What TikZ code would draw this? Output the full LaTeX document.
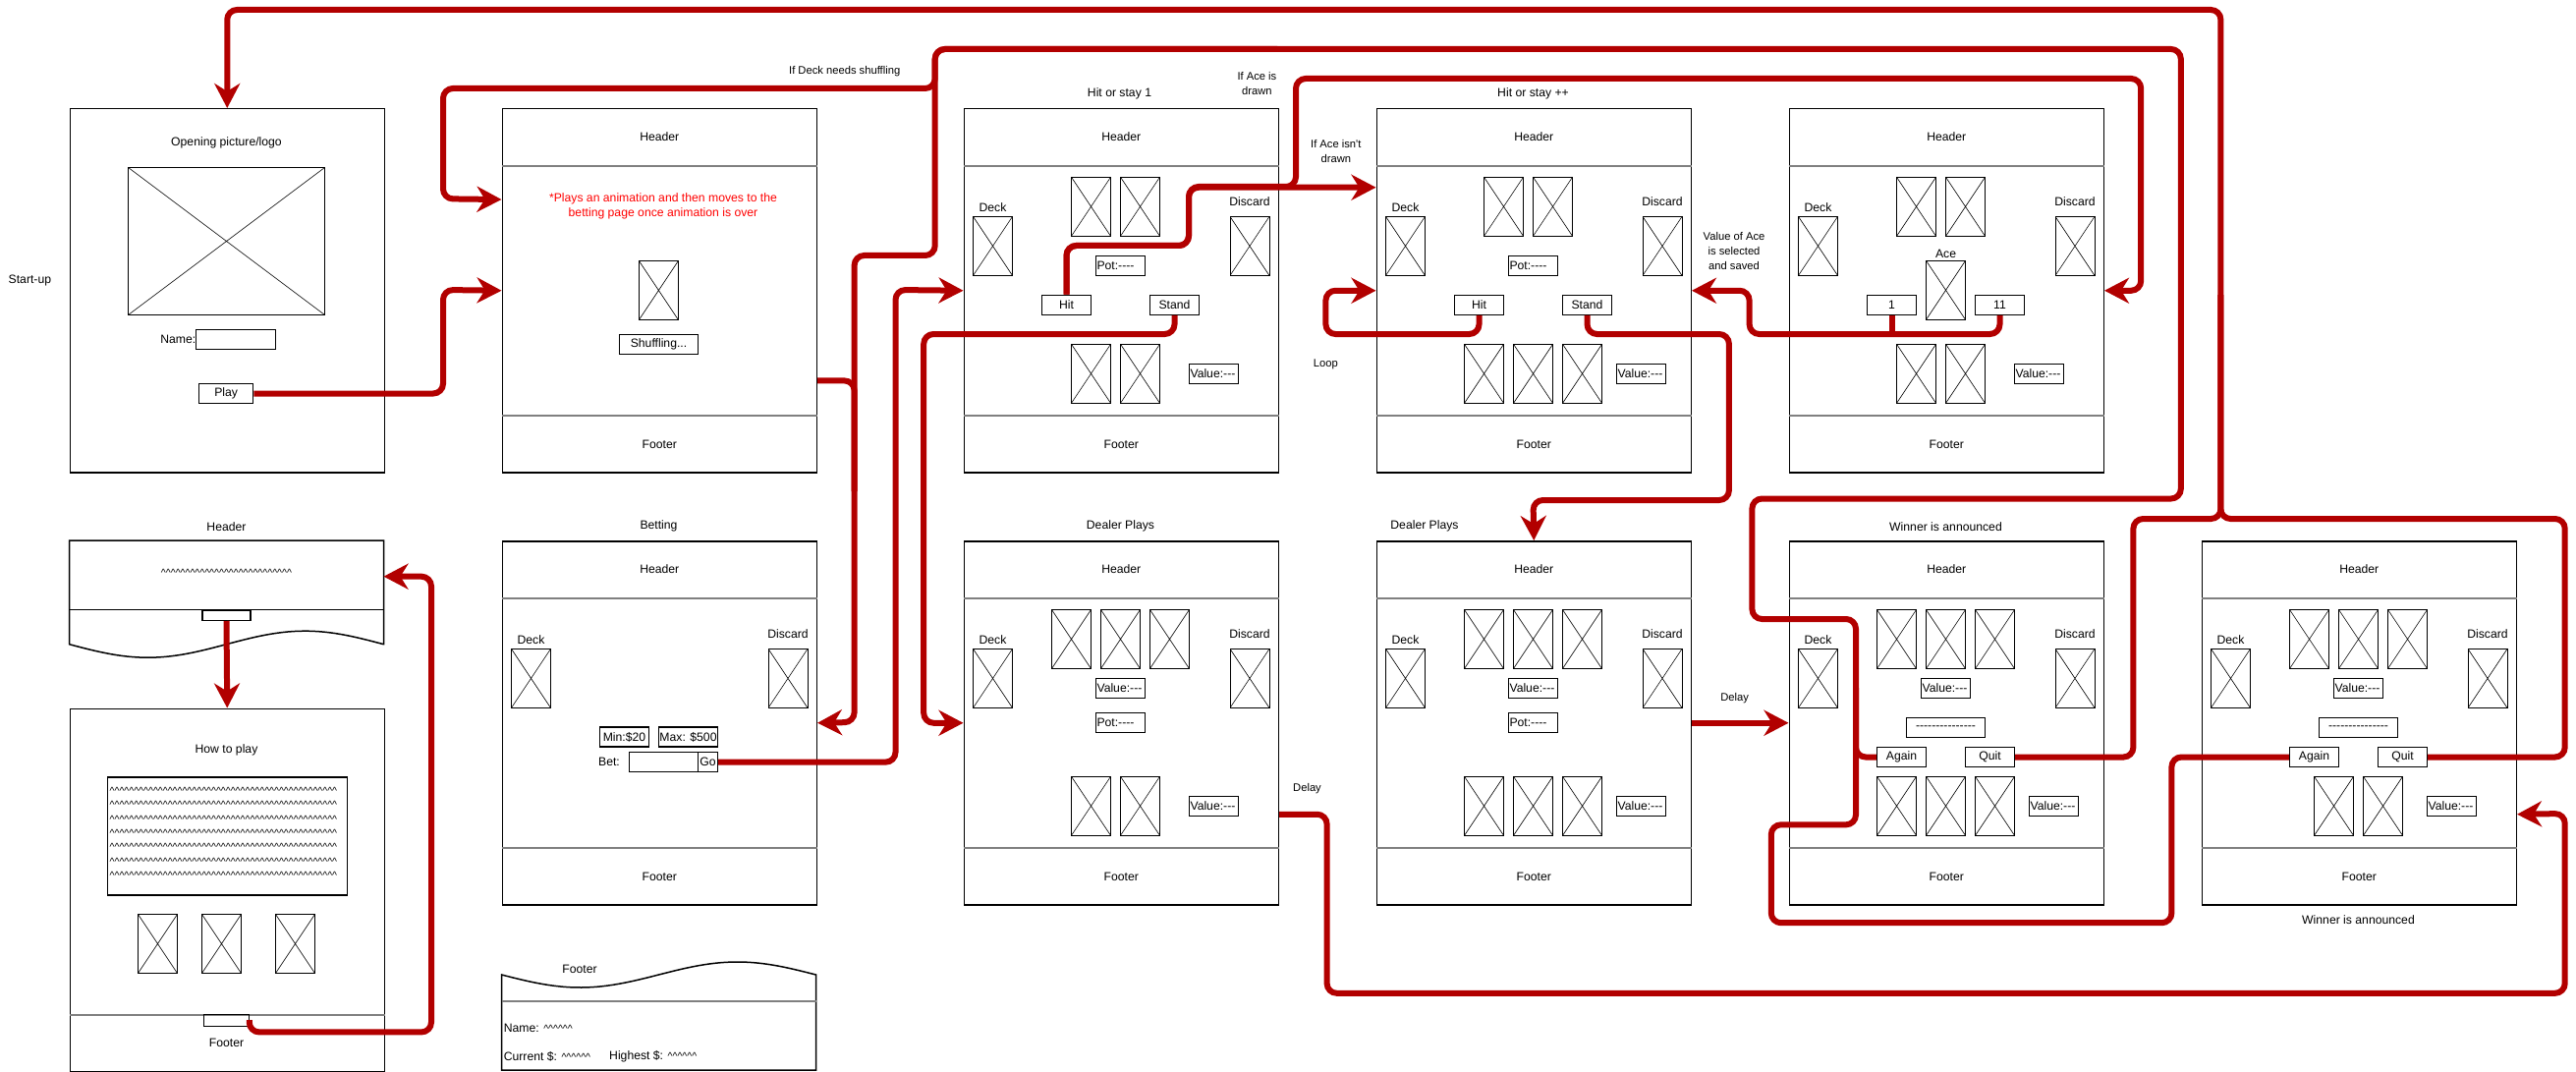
\documentclass[tikz,border=0pt]{standalone}
\usepackage{fontspec}
\newfontfamily\wire{Liberation Sans}
\usetikzlibrary{arrows.meta}
\definecolor{flowred}{HTML}{B20000}
\definecolor{notered}{HTML}{FF0000}
\definecolor{rulegray}{HTML}{808080}
\newcommand{\ui}{\wire\fontsize{12.2}{15}\selectfont}
\newcommand{\edgefont}{\wire\fontsize{11.2}{15}\selectfont}
\newcommand{\hatfont}{\wire\fontsize{10.5}{14.4}\selectfont}
\newcount\hatcount
\newcommand{\hats}[1]{\hatcount=#1\relax
  \loop\textasciicircum\advance\hatcount by -1\relax\ifnum\hatcount>0\repeat}
\tikzset{
  screen/.style={draw, line width=1.5pt, anchor=north west, minimum width=320pt, minimum height=370pt, inner sep=0pt},
  divider/.style={draw=rulegray, line width=2pt},
  card/.style={draw, line width=1pt, minimum width=40pt, minimum height=60pt, inner sep=0pt,
    path picture={\draw[line width=0.6pt] (path picture bounding box.north west) -- (path picture bounding box.south east)
      (path picture bounding box.north east) -- (path picture bounding box.south west);}},
  btn/.style={draw, line width=1.2pt, minimum width=50pt, minimum height=20pt, inner sep=0pt},
  field/.style={btn, inner xsep=1pt, text width=48pt, align=left},
  note/.style={font=\edgefont, align=center},
  flow/.style={draw=flowred, line width=6pt, rounded corners=10pt},
  into/.style={flow, -{Stealth[length=25pt, width=26pt, inset=8pt]}},
}
\begin{document}
\begin{tikzpicture}[x=1pt, y=-1pt, font=\ui]
    \useasboundingbox (0,0) rectangle (2622,1091);

    % screens, top row
    \node[screen] (startup) at (70.5,110) {};
    \node[screen] (shuf) at (510.5,110) {};
    \node[screen] (hitA) at (980.5,110) {};
    \node[screen] (hitB) at (1400.5,110) {};
    \node[screen] (ace) at (1820.5,110) {};
    % screens, bottom row
    \node[screen] (bet) at (510.5,550) {};
    \node[screen] (dealA) at (980.5,550) {};
    \node[screen] (dealB) at (1400.5,550) {};
    \node[screen] (winA) at (1820.5,550) {};
    \node[screen] (winB) at (2240.5,550) {};
    \node[screen, minimum height=369pt] (howto) at (70.5,720.5) {};

    \foreach \s in {shuf,hitA,hitB,ace,bet,dealA,dealB,winA,winB} {
        \draw[divider] ([yshift=-59pt]\s.north west) -- ([yshift=-59pt]\s.north east);
        \draw[divider] ([yshift=58.5pt]\s.south west) -- ([yshift=58.5pt]\s.south east);
        \node (\s-head) at ([yshift=-29.5pt]\s.north) {Header};
        \node (\s-foot) at ([yshift=29pt]\s.south) {Footer};
    }
    \foreach \s in {hitA,hitB,ace,bet,dealA,dealB,winA,winB} {
        \node (\s-decklbl) at ([xshift=30pt,yshift=-100.7pt]\s.north west) {Deck};
        \node[card] (\s-deck) at ([xshift=30pt,yshift=-140.4pt]\s.north west) {};
        \node (\s-disclbl) at ([xshift=-30pt,yshift=-95.6pt]\s.north east) {Discard};
        \node[card] (\s-disc) at ([xshift=-30pt,yshift=-140.4pt]\s.north east) {};
    }

    % start-up
    \node (startlbl) at (30.4,285.7) {Start-up};
    \node (logo) at (230.5,145.7) {Opening picture/logo};
    \node[card, line width=1.5pt, minimum width=200pt, minimum height=150pt] (logoimg) at (230.5,245.5) {};
    \node[anchor=east, inner sep=0pt] (namelbl) at (199.5,345.7) {Name:};
    \node[btn, minimum width=81pt] (namebox) at (240.3,345.5) {};
    \node[btn, minimum width=55pt] (play) at (230.2,400.5) {Play};

    % shuffling
    \node[text=notered, align=center] (shufnote) at (675,210.2) {*Plays an animation and then moves to the\\betting page once animation is over};
    \node[card] (shufcard) at (670.4,295.5) {};
    \node[btn, minimum width=80pt] (shufbtn) at (670.5,350.5) {Shuffling...};

    % hit or stay 1
    \node (hitAtitle) at (1139.5,95.7) {Hit or stay 1};
    \foreach \x/\n in {1110.5/1,1160.5/2} {
        \node[card] (hitA-top\n) at (\x,210.3) {};
        \node[card] (hitA-low\n) at (\x,380.3) {};
    }
    \node[field] (hitA-pot) at (1140.5,270.3) {Pot:----};
    \node[btn] (hitA-hit) at (1085.5,310.3) {Hit};
    \node[btn] (hitA-stand) at (1195.5,310.3) {Stand};
    \node[field] (hitA-value) at (1235.5,380.3) {Value:---};

    % hit or stay ++
    \node (hitBtitle) at (1560.5,95.7) {Hit or stay ++};
    \foreach \x/\n in {1530.5/1,1580.5/2}
        \node[card] (hitB-top\n) at (\x,210.3) {};
    \foreach \x/\n in {1510.5/1,1560.5/2,1610.5/3}
        \node[card] (hitB-low\n) at (\x,380.3) {};
    \node[field] (hitB-pot) at (1560.5,270.3) {Pot:----};
    \node[btn] (hitB-hit) at (1505.5,310.3) {Hit};
    \node[btn] (hitB-stand) at (1615.5,310.3) {Stand};
    \node[field] (hitB-value) at (1670.5,380.3) {Value:---};

    % ace
    \foreach \x/\n in {1950.5/1,2000.5/2} {
        \node[card] (ace-top\n) at (\x,210.3) {};
        \node[card] (ace-low\n) at (\x,380.3) {};
    }
    \node (ace-lbl) at (1980.5,258.7) {Ace};
    \node[card] (ace-card) at (1980.5,295.3) {};
    \node[btn] (ace-one) at (1925.5,310.3) {1};
    \node[btn] (ace-eleven) at (2035.5,310.3) {11};
    \node[field] (ace-value) at (2075.5,380.3) {Value:---};

    % header strip and how to play
    \node (hdrtitle) at (230.5,535.8) {Header};
    \draw[line width=1.5pt] (390.5,655.7) -- (390.5,550) -- (70.5,550) -- (70.5,655.7)
        -- plot[domain=0:320, samples=60] ({70.5+\x}, {655.7+13.5*sin(1.125*\x)}) -- cycle;
    \draw[line width=1.5pt] (70.5,620.6) -- (390.5,620.6);
    \node[font=\hatfont] (hdrtext) at (230.5,583.3) {\hats{27}};
    \node[draw, line width=1.2pt, anchor=north, minimum width=49pt, minimum height=10.2pt, inner sep=0pt] (hdrtab) at (230.5,620.6) {};
    \coordinate (hdrin) at (390.5,586.7);

    \draw[divider] ([yshift=57.9pt]howto.south west) -- ([yshift=57.9pt]howto.south east);
    \node (howtitle) at (230.5,763.5) {How to play};
    \node[draw, line width=1.2pt, anchor=north west, minimum width=244pt, minimum height=120pt, inner sep=0pt] (howtext) at (108.5,790.3) {};
    \foreach \k in {0,...,6}
        \node[font=\hatfont, anchor=west, inner sep=0pt] (howline\k) at (111.5,{804.6+14.4*\k}) {\hats{47}};
    \foreach \x/\n in {160.5/1,225.5/2,300.5/3}
        \node[card] (howcard\n) at (\x,960.5) {};
    \node[draw, line width=1.2pt, anchor=north, minimum width=45.3pt, minimum height=12pt, inner sep=0pt] (howtab) at (230.5,1031.6) {};
    \node (howfoot) at (230.5,1061.7) {Footer};

    % betting
    \node (bettitle) at (670.5,535.8) {Betting};
    \node[btn, minimum width=50.5pt] (bet-min) at (635.5,750) {Min:\$20};
    \node[btn, minimum width=60pt] (bet-max) at (700.5,750) {Max: \$500};
    \node (bet-lbl) at (620,775.6) {Bet:};
    \node[btn, minimum width=70pt] (bet-input) at (675.6,775.6) {};
    \node[btn, minimum width=20pt] (bet-go) at (720.6,775.6) {Go};

    % footer strip
    \node (foottitle) at (590,986) {Footer};
    \draw[line width=1.5pt] plot[domain=0:320, samples=60] ({510.5+\x}, {992+13*sin(1.125*\x)})
        -- (830.5,1089) -- (510.5,1089) -- cycle;
    \draw[divider] (510.5,1019) -- (830.5,1019);
    \node[anchor=west, inner sep=0pt] (footname) at (512.6,1046) {Name: {\hatfont\hats{6}}};
    \node[anchor=west, inner sep=0pt] (footcur) at (512.6,1075) {Current \$: {\hatfont\hats{6}}};
    \node[anchor=west, inner sep=0pt] (foothigh) at (620,1075) {Highest \$: {\hatfont\hats{6}}};

    % dealer plays
    \node (dealAtitle) at (1140.5,535.8) {Dealer Plays};
    \foreach \x/\n in {1090.5/1,1140.5/2,1190.5/3}
        \node[card] (dealA-top\n) at (\x,650.5) {};
    \foreach \x/\n in {1110.5/1,1160.5/2}
        \node[card] (dealA-low\n) at (\x,820.3) {};
    \node[field] (dealA-value) at (1140.5,700.4) {Value:---};
    \node[field] (dealA-pot) at (1140.5,735.4) {Pot:----};
    \node[field] (dealA-hand) at (1235.5,820.5) {Value:---};

    \node (dealBtitle) at (1450,535.8) {Dealer Plays};
    \foreach \x/\n in {1510.5/1,1560.5/2,1610.5/3} {
        \node[card] (dealB-top\n) at (\x,650.5) {};
        \node[card] (dealB-low\n) at (\x,820.3) {};
    }
    \node[field] (dealB-value) at (1560.5,700.4) {Value:---};
    \node[field] (dealB-pot) at (1560.5,735.4) {Pot:----};
    \node[field] (dealB-hand) at (1670.5,820.5) {Value:---};

    % winner is announced
    \node (winAtitle) at (1980.5,535.8) {Winner is announced};
    \foreach \x/\n in {1930.5/1,1980.5/2,2030.5/3} {
        \node[card] (winA-top\n) at (\x,650.5) {};
        \node[card] (winA-low\n) at (\x,820.3) {};
    }
    \node[field] (winA-value) at (1980.5,700.4) {Value:---};
    \node[btn, minimum width=80pt] (winA-line) at (1980.5,740.3) {---------------};
    \node[btn] (winA-again) at (1935.5,770.5) {Again};
    \node[btn] (winA-quit) at (2025.5,770.5) {Quit};
    \node[field] (winA-hand) at (2090.5,820.5) {Value:---};

    \node (winBtitle) at (2400.5,935.8) {Winner is announced};
    \foreach \x/\n in {2350.5/1,2400.5/2,2450.5/3}
        \node[card] (winB-top\n) at (\x,650.5) {};
    \foreach \x/\n in {2375.5/1,2425.5/2}
        \node[card] (winB-low\n) at (\x,820.3) {};
    \node[field] (winB-value) at (2400.5,700.4) {Value:---};
    \node[btn, minimum width=80pt] (winB-line) at (2400.5,740.3) {---------------};
    \node[btn] (winB-again) at (2355.5,770.5) {Again};
    \node[btn] (winB-quit) at (2445.5,770.5) {Quit};
    \node[field] (winB-hand) at (2495.5,820.5) {Value:---};

    % connector labels
    \node[note] (shuflbl) at (859.7,72.3) {If Deck needs shuffling};
    \node[note] (acedrawn) at (1279.4,85.3) {If Ace is\\drawn};
    \node[note] (acenot) at (1359.8,154.3) {If Ace isn't\\drawn};
    \node[note] (looplbl) at (1349.4,370.7) {Loop};
    \node[note] (acesaved) at (1765,255.3) {Value of Ace\\is selected\\and saved};
    \node[note] (delayA) at (1330.5,802.7) {Delay};
    \node[note] (delayB) at (1765.6,710.7) {Delay};

    % connectors
    \coordinate (quittrunk) at (2260.4,300);
    \coordinate (againtrunk) at (1300,50);
    \coordinate (againjoin) at (1889,700);
    \coordinate (shufdrop) at (869.6,500);
    \coordinate (acebar) at (1925.5,340);

    \draw[into] (winA-quit.east) -| (2171.4,528) -| (2260.4,10) -| (startup.north);
    \draw[flow] (winB-quit.east) -| (2610.7,528) -| (quittrunk);
    \draw[flow] (winA-again.west) -| (1889,630) -| (1783.4,507.5) -| (2219.8,50) -- (againtrunk);
    \draw[flow] (winB-again.west) -| (2210.4,939.2) -| (1802.8,839.3) -| (againjoin);
    \draw[into] (againtrunk) -| (951.7,90) -| (451,202.3) -- ([yshift=92.7pt]shuf.west);
    \draw[into] (againtrunk) -| (951.7,260) -| (869.6,735) -- (bet.east);
    \draw[flow] ([yshift=-91.7pt]shuf.east) -| (shufdrop);
    \draw[into] (play.east) -| (451,295) -- (shuf.west);
    \draw[into] (bet-go.east) -| (911.5,295) -- (hitA.west);
    \draw[into] (hitA-stand.south) |- (940.2,340) |- (dealA.west);
    \draw[into] (hitA-hit.north) |- (1210,250) |- ([yshift=105pt]hitB.west);
    \draw[into] (hitA-hit.north) |- (1210,250) |- (1319,190) |- (2179.2,80) |- (ace.east);
    \draw[into] (hitB-hit.south) |- (1349.4,340) |- (hitB.west);
    \draw[into] (hitB-stand.south) |- (1759.9,340) |- (1560.5,509) -- (dealB.north);
    \draw[flow] (ace-one.south) -- (acebar);
    \draw[into] (ace-eleven.south) |- (1780.6,340) |- (hitB.east);
    \draw[into] (dealB.east) -- (winA.west);
    \draw[into] ([yshift=-93pt]dealA.east) -| (1350.6,1010.8) -| (2610.7,828) -- ([yshift=-93pt]winB.east);
    \draw[into] (hdrtab.south) -- (howto.north);
    \draw[into] (howtab.east) |- (439,1050.4) |- (hdrin);
\end{tikzpicture}
\end{document}
